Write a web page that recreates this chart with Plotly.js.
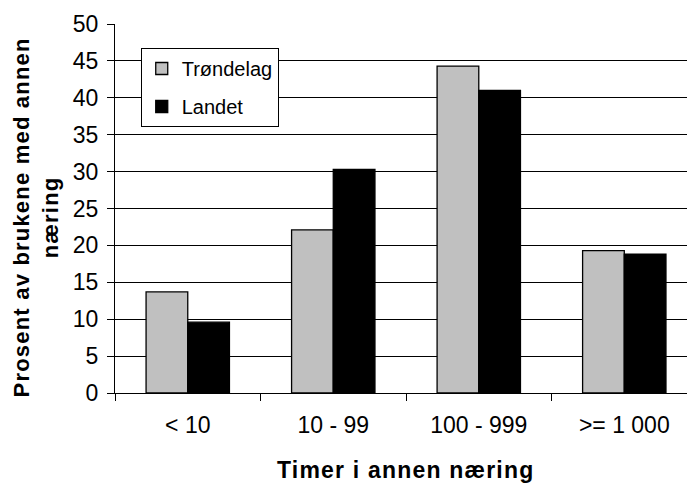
<!DOCTYPE html>
<html>
<head>
<meta charset="utf-8">
<script src="https://cdn.plot.ly/plotly-3.0.1.min.js"></script>
<style>
  html, body { margin: 0; padding: 0; background: #fff; }
  #chart { width: 687px; height: 483px; }
  .annotation[data-index="0"] text { letter-spacing: 1.2px; }
  .annotation[data-index="1"] text { letter-spacing: 1.2px; }
</style>
</head>
<body>
<div id="chart"></div>
<script>
const categories = ['< 10', '10 - 99', '100 - 999', '>= 1 000'];
const trondelag = [13.7, 22.1, 44.3, 19.3];
const landet = [9.6, 30.3, 41.0, 18.8];
const seriesNames = ['Trøndelag', 'Landet'];
const yTicks = [0, 5, 10, 15, 20, 25, 30, 35, 40, 45, 50];

const FONT = 'Liberation Sans, Arial, sans-serif';

const traces = [
  {
    type: 'bar', name: seriesNames[0], x: categories, y: trondelag,
    marker: { color: '#c0c0c0', line: { color: '#000', width: 1.3 } },
    legendgroup: 'a'
  },
  {
    type: 'bar', name: seriesNames[1], x: categories, y: landet,
    marker: { color: '#000', line: { color: '#000', width: 1.3 } },
    legendgroup: 'b'
  }
];

const layout = {
  width: 687, height: 483,
  margin: { l: 115, r: 0, t: 24, b: 90, pad: 0 },
  paper_bgcolor: '#fff', plot_bgcolor: '#fff',
  font: { family: FONT, color: '#000', size: 23 },
  barmode: 'group', bargap: 0.427, bargroupgap: 0,
  showlegend: true,
  legend: {
    x: 0.045, y: 0.935, xanchor: 'left', yanchor: 'top',
    bgcolor: '#fff', bordercolor: '#000', borderwidth: 1,
    font: { family: FONT, size: 20, color: '#000' },
    traceorder: 'grouped', tracegroupgap: 9,
    itemwidth: 30
  },
  xaxis: {
    type: 'category', range: [-0.5, 3.431],
    ticks: 'outside', tickson: 'boundaries', ticklen: 7, tickcolor: '#000', tickwidth: 1,
    showline: true, linecolor: '#000', linewidth: 1,
    showgrid: false, zeroline: false,
    tickfont: { family: FONT, size: 23, color: '#000' },
    ticklabelstandoff: 11,
    fixedrange: true
  },
  yaxis: {
    range: [0, 50], tickvals: yTicks, ticktext: yTicks.map(String),
    ticks: 'outside', ticklen: 7, tickcolor: '#000', tickwidth: 1,
    showline: true, linecolor: '#000', linewidth: 1,
    showgrid: true, gridcolor: '#000', gridwidth: 1,
    zeroline: false,
    tickfont: { family: FONT, size: 23, color: '#000' },
    ticklabelstandoff: 4,
    fixedrange: true
  },
  annotations: [
    {
      text: 'Timer i annen næring', xref: 'paper', yref: 'paper',
      x: 0.507, y: -0.21, xanchor: 'center', yanchor: 'middle', showarrow: false,
      font: { family: FONT, size: 23, color: '#000', weight: 'bold' }
    },
    {
      text: 'Prosent av brukene med annen<br>næring', xref: 'paper', yref: 'paper',
      x: -0.1372, y: 0.474, xanchor: 'center', yanchor: 'middle', showarrow: false,
      textangle: -90,
      font: { family: FONT, size: 22, color: '#000', weight: 'bold' }
    }
  ]
};

Plotly.newPlot('chart', traces, layout, { displayModeBar: false, staticPlot: true });
</script>
</body>
</html>
